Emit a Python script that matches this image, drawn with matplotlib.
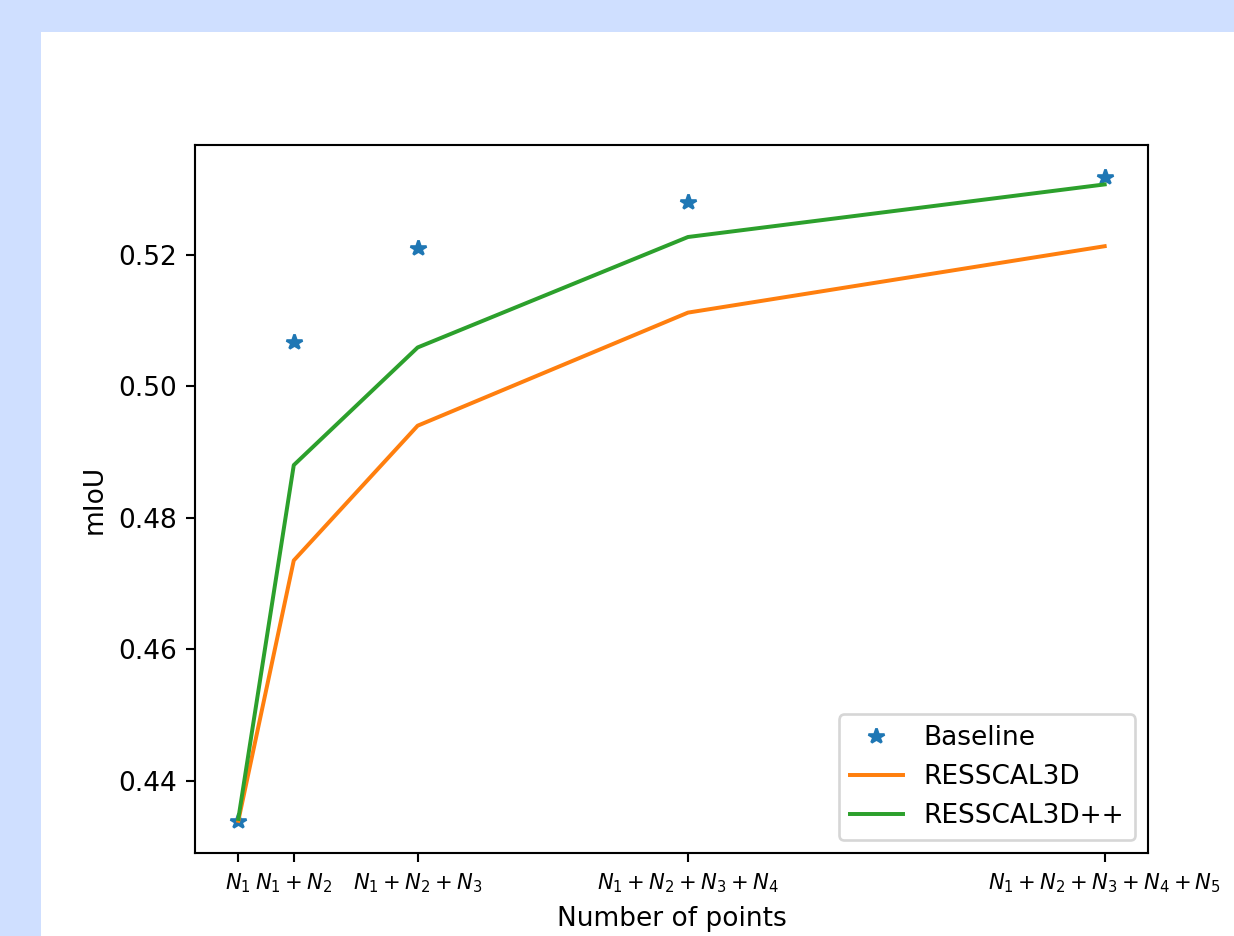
import matplotlib
matplotlib.use("Agg")
import matplotlib.pyplot as plt
from matplotlib.patches import Rectangle

# cumulative number of points (relative units) per resolution level
points = [1.0, 1.64, 3.07, 6.19, 11.0]
tick_labels = [r"$N_1$", r"$N_1+N_2$", r"$N_1+N_2+N_3$",
               r"$N_1+N_2+N_3+N_4$", r"$N_1+N_2+N_3+N_4+N_5$"]

baseline = [0.4339, 0.5068, 0.5211, 0.5280, 0.5318]
resscal3d = [0.4339, 0.4735, 0.4940, 0.5112, 0.5213]
resscal3d_pp = [0.4342, 0.4880, 0.5059, 0.5227, 0.5307]

W, H, DPI = 1234, 936, 190
fig = plt.figure(figsize=(W / DPI, H / DPI), dpi=DPI, facecolor="#cfdfff")
# white canvas of the embedded figure
fig.add_artist(Rectangle((41 / W, 0), 1 - 41 / W, (H - 32) / H,
                         transform=fig.transFigure, facecolor="white",
                         edgecolor="none", zorder=-10))

ax = fig.add_axes([195 / W, (H - 853) / H, 953 / W, 708 / H])
ax.plot(points, baseline, "*", color="#1f77b4", label="Baseline")
ax.plot(points, resscal3d, color="#ff7f0e", label="RESSCAL3D")
ax.plot(points, resscal3d_pp, color="#2ca02c", label="RESSCAL3D++")

ax.set_xticks(points)
ax.set_xticklabels(tick_labels, fontsize=8)
ax.set_yticks([0.44, 0.46, 0.48, 0.50, 0.52])
ax.set_xlabel("Number of points")
ax.set_ylabel("mIoU")
ax.legend(loc="lower right")

fig.savefig("out.png", dpi=DPI, facecolor=fig.get_facecolor())
